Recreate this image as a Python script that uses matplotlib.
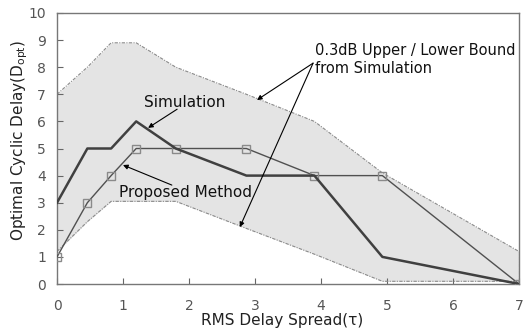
import matplotlib
matplotlib.use("Agg")
import matplotlib.pyplot as plt
import numpy as np

# Data
rms_delay = [0, 0.46, 0.82, 1.2, 1.8, 2.87, 3.9, 4.93, 7]
simulation = [3, 5, 5, 6, 5, 4, 4, 1, 0]
proposed = [1, 3, 4, 5, 5, 5, 4, 4, 0]
upper_bound = [7, 8.0, 8.9, 8.9, 8.0, 7.0, 6.0, 4.1, 1.2]
lower_bound = [1.2, 2.3, 3.05, 3.05, 3.05, 2.05, 1.1, 0.1, 0.1]
x_ticks = [0, 1, 2, 3, 4, 5, 6, 7]
y_ticks = [0, 1, 2, 3, 4, 5, 6, 7, 8, 9, 10]

plt.rcParams['font.family'] = ['DejaVu Sans']

fig = plt.figure(figsize=(5.29, 3.28), dpi=100)
ax = fig.add_axes([57/529, 1-284/328, (519-57)/529, (284-13)/328])

# band
ax.fill_between(rms_delay, lower_bound, upper_bound, color='#e4e4e4', zorder=1, lw=0)
dash = (0, (3, 1.2, 1, 1.2))
ax.plot(rms_delay, upper_bound, color='#8a8a8a', lw=0.8, linestyle=dash, zorder=2)
ax.plot(rms_delay, lower_bound, color='#8a8a8a', lw=0.8, linestyle=dash, zorder=2)
ax.plot([rms_delay[-1], rms_delay[-1]], [lower_bound[-1], upper_bound[-1]],
        color='#8a8a8a', lw=0.8, linestyle=dash, zorder=2)

ax.plot(rms_delay, simulation, color='#404040', lw=1.8, zorder=4)
ax.plot(rms_delay, proposed, color='#505050', lw=1.0, marker='s', markersize=6,
        mfc='none', mec='#8a8a8a', mew=1.0, zorder=3)

ax.set_xlim(0, 7)
ax.set_ylim(0, 10)
ax.set_xticks(x_ticks)
ax.set_yticks(y_ticks)
ax.tick_params(axis='both', direction='in', length=4, color='#666666',
               labelcolor='#555555', labelsize=10)
ax.tick_params(axis='x', pad=11)
ax.tick_params(axis='y', pad=8)
for s in ax.spines.values():
    s.set_color('#777777')
    s.set_linewidth(1.0)

ax.set_xlabel('RMS Delay Spread(τ)', fontsize=11, color='#222222')
ax.xaxis.label.set_va('center')
ax.xaxis.set_label_coords(0.5 - 6/462, -(320-284)/271)
ax.set_ylabel('Optimal Cyclic Delay(D$_{\\mathregular{opt}}$)', fontsize=11, color='#222222')
ax.yaxis.label.set_va('center')
ax.yaxis.set_label_coords(-(57-20)/462, 0.5 + 8/271)

arrow = dict(arrowstyle='-|>', color='black', lw=0.8, mutation_scale=7, shrinkA=0, shrinkB=0)
ax.text(1.94, 6.68, 'Simulation', fontsize=11, ha='center', va='center', color='#111111', zorder=6)
ax.annotate('', xy=(1.38, 5.76), xytext=(1.82, 6.45), arrowprops=arrow, zorder=6)
ax.text(1.94, 3.39, 'Proposed Method', fontsize=11, ha='center', va='center', color='#111111', zorder=6)
ax.annotate('', xy=(1.0, 4.39), xytext=(1.74, 3.65), arrowprops=arrow, zorder=6)
ax.text(3.91, 8.28, '0.3dB Upper / Lower Bound\nfrom Simulation', fontsize=10.5,
        ha='left', va='center', color='#111111', linespacing=1.25, zorder=6)
ax.annotate('', xy=(3.03, 6.79), xytext=(3.88, 8.15), arrowprops=arrow, zorder=6)
ax.annotate('', xy=(2.77, 2.10), xytext=(3.88, 8.15), arrowprops=arrow, zorder=6)

fig.savefig('out.png', dpi=100)
